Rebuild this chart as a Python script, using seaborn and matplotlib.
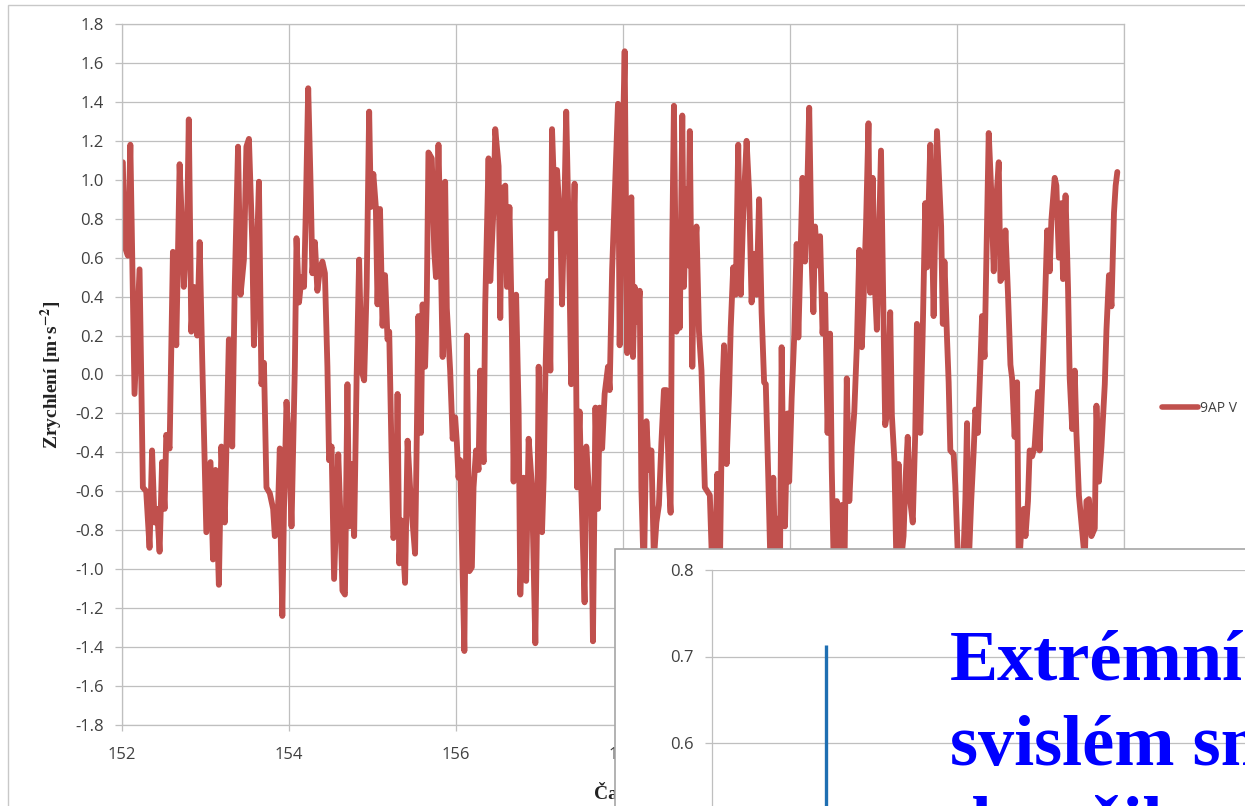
import numpy as np
import pandas as pd
import matplotlib
matplotlib.use("Agg")
import matplotlib.pyplot as plt
from matplotlib.patches import Rectangle
import seaborn as sns

# ---------------- data ----------------
time_152_154 = [152.01, 152.03, 152.07, 152.10, 152.12, 152.15, 152.18, 152.21, 152.23, 152.25,
                152.29, 152.33, 152.36, 152.39, 152.42, 152.45, 152.48, 152.51, 152.53, 152.57,
                152.61, 152.65, 152.69, 152.72, 152.74, 152.78, 152.80, 152.83, 152.86, 152.90,
                152.93, 152.96, 152.99, 153.01, 153.06, 153.09, 153.12, 153.16, 153.19, 153.23,
                153.28, 153.32, 153.35, 153.39, 153.42, 153.46, 153.49, 153.52, 153.56, 153.58,
                153.61, 153.64, 153.67, 153.70, 153.73, 153.77, 153.81, 153.83, 153.86, 153.89,
                153.90, 153.92, 153.94, 153.97, 154.00, 154.03, 154.07, 154.09, 154.12, 154.15,
                154.18, 154.20, 154.23, 154.26, 154.28, 154.31, 154.34]
accel_152_154 = [1.09, 0.66, 0.61, 1.18, 0.68, -0.10, 0.22, 0.54, 0.00, -0.58,
                 -0.60, -0.89, -0.39, -0.76, -0.69, -0.91, -0.45, -0.69, -0.31, -0.38,
                 0.63, 0.15, 1.08, 0.75, 0.45, 0.77, 1.31, 0.22, 0.45, 0.20,
                 0.68, 0.09, -0.46, -0.81, -0.45, -0.95, -0.49, -1.08, -0.37, -0.76,
                 0.18, -0.37, 0.45, 1.17, 0.41, 0.59, 1.17, 1.21, 0.68, 0.15,
                 0.54, 0.99, -0.05, 0.06, -0.58, -0.61, -0.69, -0.83, -0.81, -0.38,
                 -0.81, -1.24, -0.69, -0.14, -0.35, -0.78, 0.04, 0.70, 0.37, 0.50,
                 0.45, 0.82, 1.47, 0.95, 0.52, 0.68, 0.43]

time_154_157 = [154.37, 154.40, 154.43, 154.46, 154.48, 154.51, 154.54, 154.59, 154.62, 154.64,
                154.67, 154.70, 154.72, 154.75, 154.78, 154.81, 154.84, 154.87, 154.90, 154.93,
                154.96, 154.98, 155.01, 155.04, 155.06, 155.09, 155.12, 155.15, 155.18, 155.20,
                155.23, 155.25, 155.28, 155.30, 155.32, 155.35, 155.39, 155.42, 155.45, 155.48,
                155.51, 155.53, 155.55, 155.58, 155.60, 155.63, 155.65, 155.67, 155.71, 155.74,
                155.76, 155.79, 155.82, 155.84, 155.87, 155.89, 155.93, 155.96, 155.99, 156.01,
                156.03, 156.05, 156.08, 156.10, 156.12, 156.13, 156.16, 156.19, 156.21, 156.24,
                156.27, 156.29, 156.33, 156.35, 156.39, 156.41, 156.45, 156.47, 156.51, 156.53,
                156.55, 156.59, 156.61, 156.64, 156.67, 156.69, 156.72, 156.75, 156.77, 156.81,
                156.84, 156.87]
accel_154_157 = [0.54, 0.58, 0.52, 0.04, -0.44, -0.37, -1.05, -0.41, -0.78, -1.11,
                 -1.13, -0.05, -0.78, -0.46, -0.83, -0.01, 0.59, 0.02, -0.03, 0.45,
                 1.35, 0.86, 1.03, 0.86, 0.36, 0.85, 0.25, 0.51, 0.18, 0.22,
                 -0.44, -0.84, -0.78, -0.10, -0.97, -0.75, -1.07, -0.34, -0.58, -0.76,
                 -0.92, -0.33, 0.30, -0.30, 0.36, 0.04, 0.38, 1.14, 1.11, 0.63,
                 0.50, 1.18, 0.56, 0.09, 0.99, 0.34, 0.02, -0.33, -0.22, -0.35,
                 -0.53, -0.44, -1.03, -1.42, -0.46, 0.20, -1.01, -0.99, -0.58, -0.39,
                 -0.49, 0.02, -0.45, 0.36, 1.11, 0.48, 0.86, 1.26, 1.07, 0.29,
                 0.95, 0.97, 0.45, 0.86, 0.22, -0.55, 0.41, -0.19, -1.13, -0.53,
                 -1.06, -0.33]

time_157_159 = [156.91, 156.95, 156.98, 156.99, 157.03, 157.05, 157.07, 157.10, 157.13, 157.15,
                157.19, 157.21, 157.25, 157.27, 157.30, 157.32, 157.35, 157.38, 157.40, 157.42,
                157.45, 157.48, 157.50, 157.54, 157.56, 157.59, 157.62, 157.64, 157.67, 157.70,
                157.72, 157.75, 157.78, 157.82, 157.84, 157.87, 157.90, 157.94, 157.96, 157.99,
                158.02, 158.05, 158.07, 158.10, 158.12, 158.14, 158.17, 158.20, 158.22, 158.25,
                158.28, 158.31, 158.34, 158.37, 158.40, 158.43, 158.46, 158.49, 158.52, 158.55,
                158.57, 158.59, 158.61, 158.64, 158.66, 158.68, 158.71, 158.73, 158.76, 158.78,
                158.80, 158.83, 158.85, 158.88, 158.91, 158.94, 158.98, 159.01, 159.04, 159.07,
                159.10, 159.13, 159.16, 159.19, 159.21, 159.24, 159.27, 159.29]
accel_157_159 = [-0.58, -1.38, -0.46, 0.04, -0.81, -0.53, -0.01, 0.48, 0.02, 1.26,
                 0.75, 1.05, 0.75, 0.36, 0.91, 1.35, 0.73, -0.05, 0.61, 0.98,
                 -0.58, -0.19, -0.58, -1.17, -0.37, -0.58, -0.69, -1.37, -0.17, -0.69,
                 -0.17, -0.38, -0.10, 0.04, -0.08, 0.54, 0.91, 1.39, 0.15, 1.02,
                 1.66, 0.11, 0.80, 0.91, 0.09, 0.45, 0.27, 0.43, -0.58, -1.05,
                 -0.24, -0.49, -0.39, -0.95, -0.76, -0.67, -0.35, -0.08, -0.08, -0.55,
                 -0.71, 0.68, 1.38, 0.22, 0.73, 0.24, 1.33, 0.45, 0.95, 0.56,
                 1.25, 0.04, 0.56, 0.76, 0.22, 0.02, -0.58, -0.60, -0.62, -1.02,
                 -0.95, -0.51, -1.00, -0.08, 0.15, -0.46, -0.10, 0.24]

time_159_162 = [159.32, 159.35, 159.38, 159.41, 159.44, 159.48, 159.51, 159.54, 159.57, 159.60,
                159.63, 159.66, 159.69, 159.71, 159.74, 159.77, 159.80, 159.83, 159.86, 159.88,
                159.90, 159.92, 159.94, 159.97, 159.99, 160.02, 160.05, 160.08, 160.10, 160.13,
                160.15, 160.18, 160.21, 160.23, 160.26, 160.28, 160.30, 160.33, 160.36, 160.39,
                160.42, 160.45, 160.48, 160.50, 160.53, 160.56, 160.59, 160.62, 160.65, 160.68,
                160.71, 160.74, 160.77, 160.80, 160.83, 160.86, 160.88, 160.91, 160.94, 160.96,
                160.99, 161.02, 161.04, 161.07, 161.09, 161.12, 161.14, 161.17, 161.20, 161.22,
                161.25, 161.28, 161.30, 161.32, 161.36, 161.38, 161.41, 161.44, 161.47, 161.50,
                161.52, 161.56, 161.59, 161.62, 161.64, 161.68, 161.70, 161.72, 161.76]
accel_159_162 = [0.55, 0.41, 1.18, 0.41, 0.83, 1.20, 0.94, 0.37, 0.62, 0.41,
                 0.90, 0.32, -0.04, -0.05, -0.53, -1.05, -0.53, -1.10, -0.74, -0.98,
                 0.14, -0.55, -0.78, -0.20, -0.55, -0.12, 0.19, 0.67, 0.19, 0.67,
                 1.01, 0.58, 1.01, 1.37, 0.58, 0.32, 0.76, 0.56, 0.71, 0.21,
                 0.41, -0.30, 0.21, -0.48, -1.12, -0.65, -1.02, -0.67, -1.08, -0.02,
                 -0.65, -0.37, -0.19, 0.14, 0.64, 0.14, 0.37, 0.76, 1.29, 0.42,
                 1.01, 0.42, 0.23, 0.78, 1.15, 0.28, -0.26, -0.18, 0.32, -0.21,
                 -0.44, -1.10, -0.46, -1.00, -0.83, -0.57, -0.32, -0.65, -0.76, -0.30,
                 0.26, -0.30, 0.23, 0.88, 0.55, 1.18, 0.76, 0.30, 1.25]

time_162_164 = [161.81, 161.83, 161.85, 161.88, 161.90, 161.92, 161.96, 161.98, 162.02, 162.06,
                162.10, 162.12, 162.14, 162.17, 162.20, 162.22, 162.25, 162.28, 162.30, 162.33,
                162.36, 162.38, 162.41, 162.44, 162.46, 162.50, 162.52, 162.56, 162.58, 162.61,
                162.64, 162.66, 162.69, 162.72, 162.74, 162.77, 162.80, 162.82, 162.85, 162.87,
                162.90, 162.93, 162.97, 162.99, 163.02, 163.05, 163.08, 163.11, 163.13, 163.17,
                163.19, 163.22, 163.25, 163.27, 163.30, 163.33, 163.35, 163.38, 163.41, 163.43,
                163.46, 163.49, 163.53, 163.55, 163.58, 163.61, 163.65, 163.67, 163.70, 163.73,
                163.77, 163.79, 163.82, 163.85, 163.88, 163.90, 163.92]
accel_162_164 = [0.76, 0.26, 0.58, 0.19, -0.04, -0.39, -0.41, -0.57, -1.05, -1.15,
                 -0.65, -0.25, -0.98, -0.65, -0.39, -0.18, -0.30, 0.05, 0.30, 0.09,
                 0.79, 1.24, 0.94, 0.53, 0.83, 1.09, 0.48, 0.51, 0.74, 0.42,
                 0.05, -0.02, -0.32, -0.04, -1.02, -0.79, -0.69, -0.83, -0.65, -0.39,
                 -0.42, -0.37, -0.09, -0.39, -0.05, 0.32, 0.74, 0.53, 0.79, 1.01,
                 0.97, 0.60, 0.88, 0.49, 0.92, 0.44, -0.02, -0.28, 0.02, -0.30,
                 -0.62, -0.76, -0.95, -0.65, -0.64, -0.83, -0.79, -0.16, -0.55, -0.37,
                 -0.05, 0.23, 0.51, 0.35, 0.83, 0.97, 1.04]

series_name = "9AP V"
x_ticks = [152, 154, 156, 158, 160, 162, 164]
x_tick_labels = ["152", "154", "156", "158", "", "", ""]   # the last ones lie under the inset
y_ticks = [-1.8, -1.6, -1.4, -1.2, -1.0, -0.8, -0.6, -0.4, -0.2, 0.0,
           0.2, 0.4, 0.6, 0.8, 1.0, 1.2, 1.4, 1.6, 1.8]

# inset (spectrum-like panel, only its top part is visible)
inset_peak_freq = [1.43]
inset_peak_amp = [0.713]
inset_y_ticks = [0.6, 0.7, 0.8]

overlay_lines = ["Extrémní", "svislém směru", "dosažil"]

# ---------------- figure ----------------
sns.set_theme(style="white")
plt.rcParams['font.family'] = ['Open Sans', 'DejaVu Sans']
plt.rcParams['mathtext.fontset'] = 'stix'
plt.rcParams['axes.unicode_minus'] = False

W, H = 1245, 806
fig = plt.figure(figsize=(W / 100, H / 100), dpi=100)
fig.patch.set_facecolor('white')


def fx(px):
    return px / W


def fy(py):
    return 1 - py / H


GRID = '#bfbfbf'
TXT = '#404040'
RED = '#C0504D'

# outer chart frame
fig.add_artist(Rectangle((fx(8), fy(950)), fx(1400), (950 - 5) / H,
                         transform=fig.transFigure, fill=False,
                         edgecolor='#c8c8c8', lw=1.0, zorder=0.2))

ax = fig.add_axes([fx(122), fy(725), (1124 - 122) / W, (725 - 24) / H], zorder=1)
df = pd.DataFrame({
    "t": time_152_154 + time_154_157 + time_157_159 + time_159_162 + time_162_164,
    "a": accel_152_154 + accel_154_157 + accel_157_159 + accel_159_162 + accel_162_164,
})
sns.lineplot(data=df, x="t", y="a", ax=ax, color=RED, lw=4.2,
             estimator=None, sort=False, label=series_name)

ax.set_xlim(152, 164)
ax.set_ylim(-1.8, 1.8)
ax.set_xticks(x_ticks)
ax.set_xticklabels(x_tick_labels)
ax.set_yticks(y_ticks)
ax.set_yticklabels(["0.0" if abs(v) < 1e-9 else f"{v:.1f}" for v in y_ticks])
ax.grid(True, color=GRID, lw=0.9)
ax.set_axisbelow(True)
for s in ax.spines.values():
    s.set_color(GRID)
    s.set_linewidth(0.9)
ax.tick_params(axis='y', left=True, length=5, width=0.9, color=GRID,
               labelsize=12, labelcolor=TXT, pad=8)
ax.tick_params(axis='x', bottom=True, length=4, width=0.9, color=GRID,
               labelsize=12, labelcolor=TXT, pad=12)
ax.set_ylabel("Zrychlení [m·s$^{\\mathbf{-2}}$]", family='Liberation Serif',
              fontweight='bold', fontsize=14, color='#222222', labelpad=7)
ax.set_xlabel("Čas [s]", family='Liberation Serif', fontweight='bold',
              fontsize=14, color='#222222', labelpad=14)

leg = ax.legend(loc='center left', bbox_to_anchor=(fx(1162), fy(408)),
                bbox_transform=fig.transFigure, frameon=False, fontsize=10,
                handlelength=2.6, handletextpad=0.1, borderpad=0, borderaxespad=0)
for t in leg.get_texts():
    t.set_color(TXT)
for h in leg.get_lines():
    h.set_linewidth(4.0)

# inset panel
fig.add_artist(Rectangle((fx(615), fy(950)), fx(900), (950 - 549) / H,
                         transform=fig.transFigure, facecolor='white',
                         edgecolor='#a6a6a6', lw=1.2, zorder=2))

ax_in = fig.add_axes([fx(712), fy(1262), 638 / W, 692 / H], zorder=3)
ax_in.vlines(inset_peak_freq, 0, inset_peak_amp, color='#1F6FB2', lw=2.4)
ax_in.set_xlim(0, 8)
ax_in.set_ylim(0, 0.8)
ax_in.set_yticks(inset_y_ticks)
ax_in.set_yticklabels([f"{v:.1f}" for v in inset_y_ticks])
ax_in.set_xticks([])
ax_in.grid(True, axis='y', color=GRID, lw=0.9)
ax_in.set_axisbelow(True)
for k in ['top', 'right', 'bottom']:
    ax_in.spines[k].set_visible(False)
ax_in.spines['left'].set_color(GRID)
ax_in.spines['left'].set_linewidth(0.9)
ax_in.tick_params(axis='y', left=True, length=5, width=0.9, color=GRID,
                  labelsize=12, labelcolor=TXT, pad=8)

# overlaid headline text
baselines = [680, 765, 846]
for line, b in zip(overlay_lines, baselines):
    fig.text(fx(950), fy(b), line, color='#0000FF', fontsize=52,
             fontweight='bold', family='Liberation Serif',
             ha='left', va='baseline', zorder=5)

fig.savefig("out.png", dpi=100, facecolor='white')
